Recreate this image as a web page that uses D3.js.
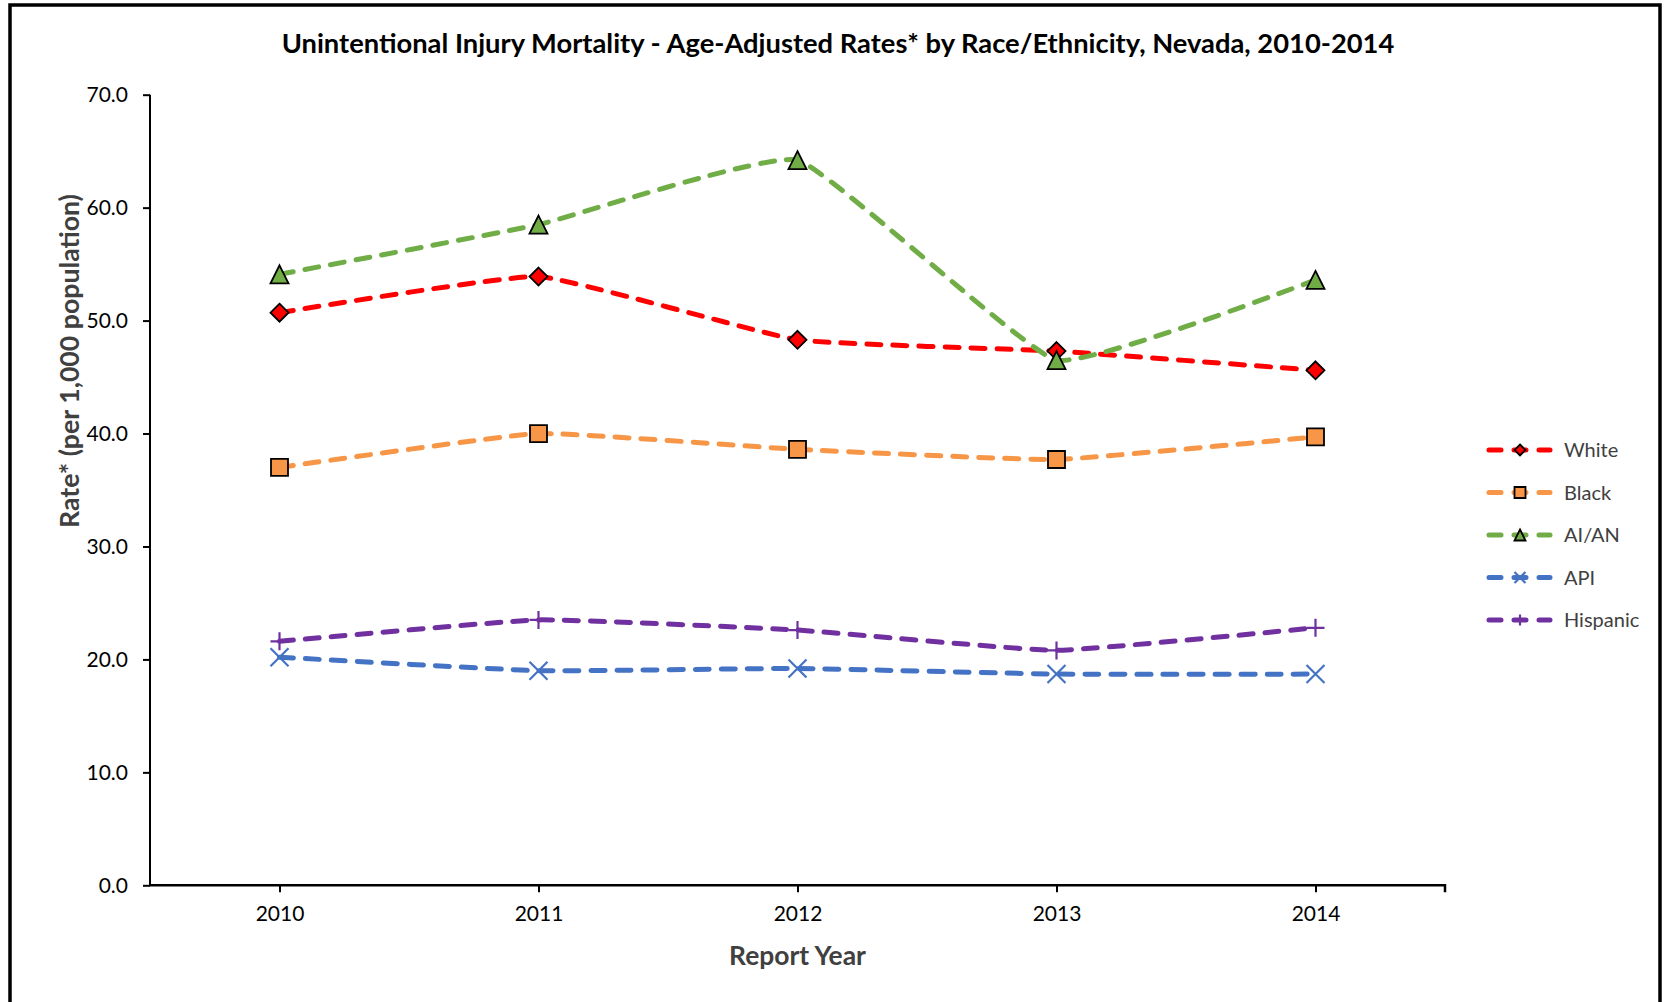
<!DOCTYPE html>
<html>
<head>
<meta charset="utf-8">
<script src="https://cdn.jsdelivr.net/npm/d3@7"></script>
<style>
	html, body { margin: 0; padding: 0; background: #fff; }
	svg { display: block; font-family: Lato, "Open Sans", sans-serif; }
</style>
</head>
<body>
<svg id="chart" width="1667" height="1002"></svg>
<script>

// Report years along the bottom.
var years = [ '2010', '2011', '2012', '2013', '2014' ];

// Rates per series.
var white = [ 50.7, 53.9, 48.3, 47.3, 45.6 ];
var black = [ 37.0, 40.0, 38.6, 37.7, 39.7 ];
var aian = [ 54.1, 58.5, 64.2, 46.5, 53.6 ];
var api = [ 20.2, 19.0, 19.2, 18.7, 18.7 ];
var hispanic = [ 21.6, 23.5, 22.6, 20.8, 22.8 ];

var seriesNames = [ 'White', 'Black', 'AI/AN', 'API', 'Hispanic' ];
var yTicks = [ 0, 10, 20, 30, 40, 50, 60, 70 ];

var titleText = 'Unintentional Injury Mortality - Age-Adjusted Rates* by Race/Ethnicity, Nevada, 2010-2014';


var svg = d3.select( '#chart' );

var plot = { left: 150, right: 1445, top: 94.7, bottom: 885.3 };

// Marker look per series, in the same order as the names.
var styles = [
	{ color: '#FF0000', shape: 'diamond' },
	{ color: '#F79646', shape: 'square' },
	{ color: '#70AD47', shape: 'triangle' },
	{ color: '#4472C4', shape: 'cross' },
	{ color: '#7030A0', shape: 'plus' }
];

var series = [ white, black, aian, api, hispanic ].map( function ( values, i ) {
	return {
		name: seriesNames[i],
		style: styles[i],
		points: values.map( function ( v, j ) { return { year: years[j], value: v }; } )
	};
} );

var x = d3.scalePoint()
	.domain( years )
	.range( [ plot.left, plot.right ] )
	.padding( 0.5 );

var y = d3.scaleLinear()
	.domain( [ 0, 70 ] )
	.range( [ plot.bottom, plot.top ] );


/**
 * Path for a marker of half-size r, centred at 0,0.
 */
function markerPath( shape, r ) {
	if ( shape === 'diamond' ) {
		return 'M0,' + -r + 'L' + r + ',0L0,' + r + 'L' + -r + ',0Z';
	} else if ( shape === 'square' ) {
		return 'M' + -r + ',' + -r + 'H' + r + 'V' + r + 'H' + -r + 'Z';
	} else if ( shape === 'triangle' ) {
		return 'M0,' + -r + 'L' + r + ',' + r + 'L' + -r + ',' + r + 'Z';
	} else if ( shape === 'cross' ) {
		return 'M' + -r + ',' + -r + 'L' + r + ',' + r + 'M' + r + ',' + -r + 'L' + -r + ',' + r;
	}
	return 'M' + -r + ',0H' + r + 'M0,' + -r + 'V' + r;
}

function drawMarker( sel, style, r ) {
	var open = style.shape === 'cross' || style.shape === 'plus';
	sel.append( 'path' )
		.attr( 'd', markerPath( style.shape, r ) )
		.attr( 'fill', open ? 'none' : style.color )
		.attr( 'stroke', open ? style.color : '#000' )
		.attr( 'stroke-width', open ? 2.2 : 1.8 )
		.attr( 'stroke-linejoin', 'miter' );
}

// Scale a text's font so it spans the width it has in the original.
function fitWidth( text, size, width ) {
	var len = text.node().getComputedTextLength();
	text.style( 'font-size', ( size * width / len ) + 'px' );
}


// Outer frame (bottom edge falls outside the picture).
svg.append( 'rect' )
	.attr( 'x', 10 )
	.attr( 'y', 5 )
	.attr( 'width', 1650 )
	.attr( 'height', 1020 )
	.attr( 'fill', '#fff' )
	.attr( 'stroke', '#000' )
	.attr( 'stroke-width', 3.5 );

var title = svg.append( 'text' )
	.attr( 'x', 838 )
	.attr( 'y', 53 )
	.attr( 'text-anchor', 'middle' )
	.style( 'font-weight', 'bold' )
	.style( 'font-size', '24px' )
	.attr( 'fill', '#000' )
	.text( titleText );
fitWidth( title, 24, 1113 );


// Y axis.
var yAxis = svg.append( 'g' )
	.attr( 'transform', 'translate(' + plot.left + ',0)' )
	.call( d3.axisLeft( y ).tickValues( yTicks ).tickFormat( d3.format( '.1f' ) ).tickSize( 7 ).tickPadding( 15 ) );

yAxis.select( '.domain' ).attr( 'stroke', '#000' ).attr( 'stroke-width', 2 ).attr( 'd', 'M0,' + plot.top + 'V' + plot.bottom );
yAxis.selectAll( '.tick line' ).attr( 'stroke', '#000' ).attr( 'stroke-width', 2 );
yAxis.selectAll( '.tick text' )
	.style( 'font-family', 'Lato, sans-serif' )
	.style( 'font-size', '21px' )
	.attr( 'fill', '#000' );

// X axis, ticks at the years plus one at the right end.
var xAxis = svg.append( 'g' )
	.attr( 'transform', 'translate(0,' + plot.bottom + ')' )
	.call( d3.axisBottom( x ).tickSize( 7 ).tickPadding( 14 ) );

xAxis.select( '.domain' ).attr( 'stroke', '#000' ).attr( 'stroke-width', 2.5 ).attr( 'd', 'M' + plot.left + ',0H' + plot.right + 'V7' );
xAxis.selectAll( '.tick line' ).attr( 'stroke', '#000' ).attr( 'stroke-width', 2 );
xAxis.selectAll( '.tick text' )
	.style( 'font-family', 'Lato, sans-serif' )
	.style( 'font-size', '21px' )
	.attr( 'fill', '#000' );

// Axis titles.
var xTitle = svg.append( 'text' )
	.attr( 'x', ( plot.left + plot.right ) / 2 )
	.attr( 'y', 965 )
	.attr( 'text-anchor', 'middle' )
	.style( 'font-weight', 'bold' )
	.style( 'font-size', '24px' )
	.attr( 'fill', '#404040' )
	.text( 'Report Year' );
fitWidth( xTitle, 24, 137 );

var yTitle = svg.append( 'text' )
	.attr( 'transform', 'translate(79,361) rotate(-90)' )
	.attr( 'text-anchor', 'middle' )
	.style( 'font-weight', 'bold' )
	.style( 'font-size', '24px' )
	.attr( 'fill', '#404040' )
	.text( 'Rate* (per 1,000 population)' );
fitWidth( yTitle, 24, 334 );


// Lines and markers, one series at a time so later ones sit on top.
var line = d3.line()
	.x( function ( d ) { return x( d.year ); } )
	.y( function ( d ) { return y( d.value ); } )
	.curve( d3.curveCardinal.tension( 0.65 ) );

series.forEach( function ( s ) {

	var g = svg.append( 'g' ).attr( 'class', 'series' );

	g.append( 'path' )
		.datum( s.points )
		.attr( 'd', line )
		.attr( 'fill', 'none' )
		.attr( 'stroke', s.style.color )
		.attr( 'stroke-width', 5 )
		.attr( 'stroke-linecap', 'round' )
		.attr( 'stroke-dasharray', '14 12' );

	g.selectAll( 'g.marker' )
		.data( s.points )
		.enter()
		.append( 'g' )
		.attr( 'class', 'marker' )
		.attr( 'transform', function ( d ) { return 'translate(' + x( d.year ) + ',' + y( d.value ) + ')'; } )
		.each( function () {
			drawMarker( d3.select( this ), s.style, s.style.shape === 'square' ? 8.5 : 9 );
		} );

} );


// Legend on the right.
var legend = svg.selectAll( 'g.legend' )
	.data( series )
	.enter()
	.append( 'g' )
	.attr( 'class', 'legend' )
	.attr( 'transform', function ( d, i ) { return 'translate(0,' + ( 450 + i * 42.5 ) + ')'; } );

legend.append( 'line' )
	.attr( 'x1', 1489 )
	.attr( 'x2', 1550 )
	.attr( 'stroke', function ( d ) { return d.style.color; } )
	.attr( 'stroke-width', 5 )
	.attr( 'stroke-linecap', 'round' )
	.attr( 'stroke-dasharray', '12 13' );

legend.each( function ( d ) {
	var m = d3.select( this ).append( 'g' ).attr( 'transform', 'translate(1520,0)' );
	drawMarker( m, d.style, 5.5 );
} );

legend.append( 'text' )
	.attr( 'x', 1564 )
	.attr( 'dy', '0.35em' )
	.style( 'font-size', '20px' )
	.attr( 'fill', '#404040' )
	.text( function ( d ) { return d.name; } );

</script>
</body>
</html>
